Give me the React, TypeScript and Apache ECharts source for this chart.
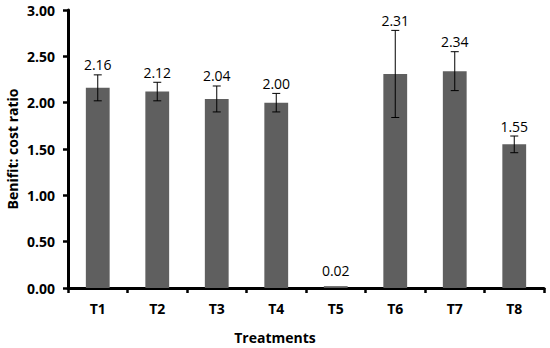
import React, { useEffect, useRef } from "react";
import * as echarts from "echarts";

const categories = ["T1", "T2", "T3", "T4", "T5", "T6", "T7", "T8"];
const values = [2.16, 2.12, 2.04, 2.0, 0.02, 2.31, 2.34, 1.55];
const errors = [0.14, 0.1, 0.14, 0.1, 0, 0.47, 0.21, 0.09];
const yTicks = [0, 0.5, 1, 1.5, 2, 2.5, 3];

const FONT = "'Open Sans', sans-serif";

export default function App() {
  const ref = useRef<HTMLDivElement>(null);
  useEffect(() => {
    const chart = echarts.init(ref.current!, undefined, { renderer: "svg" });
    chart.setOption({
      animation: false,
      grid: { left: 68, right: 6, top: 10, bottom: 60 },
      xAxis: {
        type: "category",
        data: categories,
        axisLine: { lineStyle: { color: "#000", width: 3 } },
        axisTick: { show: true, length: 5, lineStyle: { color: "#000", width: 2.5 } },
        axisLabel: { color: "#000", fontWeight: "bold", fontSize: 14, fontFamily: FONT, margin: 13 },
      },
      yAxis: {
        type: "value",
        min: yTicks[0],
        max: yTicks[yTicks.length - 1],
        interval: 0.5,
        splitLine: { show: false },
        axisLine: { show: true, lineStyle: { color: "#000", width: 3 } },
        axisTick: { show: true, length: 5, lineStyle: { color: "#000", width: 2.5 } },
        axisLabel: {
          color: "#000",
          fontWeight: "bold",
          fontSize: 14,
          fontFamily: FONT,
          margin: 13,
          formatter: (v: number) => v.toFixed(2),
        },
      },
      graphic: [
        {
          type: "text",
          x: 12,
          y: 149,
          rotation: Math.PI / 2,
          style: {
            text: "Benifit: cost ratio",
            font: `bold 14px ${FONT}`,
            fill: "#000",
            textAlign: "center",
            textVerticalAlign: "middle",
          },
        },
        {
          type: "text",
          x: 275,
          y: 337,
          style: {
            text: "Treatments",
            font: `bold 14px ${FONT}`,
            fill: "#000",
            textAlign: "center",
            textVerticalAlign: "middle",
          },
        },
      ],
      series: [
        {
          type: "bar",
          data: values,
          barWidth: "40%",
          itemStyle: { color: "#5f5f5f" },
        },
        {
          type: "custom",
          data: values.map((v, i) => [i, v, errors[i]]),
          encode: { x: 0, y: 1 },
          z: 10,
          renderItem: (params: any, api: any) => {
            const i = api.value(0);
            const v = api.value(1);
            const e = api.value(2);
            const top = api.coord([i, v + e]);
            const bot = api.coord([i, v - e]);
            const children: any[] = [];
            const st = { stroke: "#000", lineWidth: 1 };
            if (e > 0) {
              children.push(
                { type: "line", shape: { x1: top[0], y1: top[1], x2: bot[0], y2: bot[1] }, style: st },
                { type: "line", shape: { x1: top[0] - 4, y1: top[1], x2: top[0] + 4, y2: top[1] }, style: st },
                { type: "line", shape: { x1: bot[0] - 4, y1: bot[1], x2: bot[0] + 4, y2: bot[1] }, style: st }
              );
            }
            children.push({
              type: "text",
              x: top[0],
              y: top[1] - (e > 0 ? 10 : 16),
              style: {
                text: v.toFixed(2),
                font: `14px ${FONT}`,
                fill: "#000",
                textAlign: "center",
                textVerticalAlign: "middle",
              },
            });
            return { type: "group", children };
          },
        },
      ],
    });
    return () => chart.dispose();
  }, []);
  return <div ref={ref} style={{ width: 550, height: 348, position: "absolute", left: 0, top: 0, background: "#fff" }} />;
}
